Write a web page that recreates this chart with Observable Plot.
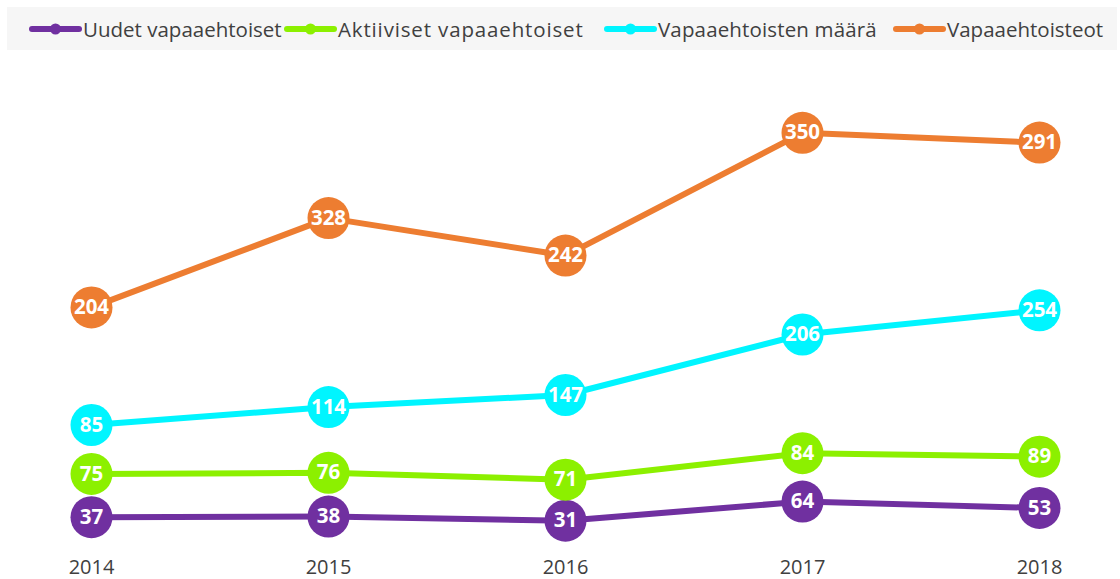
<!DOCTYPE html>
<html>
<head>
<meta charset="utf-8">
<script src="https://cdn.jsdelivr.net/npm/d3@7"></script>
<script src="https://cdn.jsdelivr.net/npm/@observablehq/plot@0.6"></script>
<style>
  html, body { margin: 0; padding: 0; background: #fff; }
  body { width: 1120px; height: 579px; overflow: hidden; font-family: "Open Sans", sans-serif; }
  #legend { position: absolute; left: 7px; top: 7px; width: 1110px; height: 43px; background: #f6f6f6; }
  .item { position: absolute; top: 0; height: 43px; display: flex; align-items: center; font-size: 20.5px; color: #404040; white-space: nowrap; }
  .item svg { margin-right: 1px; }
  #chart { position: absolute; left: 0; top: 55px; }
</style>
</head>
<body>
<div id="legend"></div>
<div id="chart"></div>
<script>
const years = ["2014", "2015", "2016", "2017", "2018"];
const seriesNames = ["Uudet vapaaehtoiset", "Aktiiviset vapaaehtoiset", "Vapaaehtoisten määrä", "Vapaaehtoisteot"];
const uudet = [37, 38, 31, 64, 53];
const aktiiviset = [75, 76, 71, 84, 89];
const maara = [85, 114, 147, 206, 254];
const teot = [204, 328, 242, 350, 291];
const colors = ["#7030a0", "#8cf000", "#00f5ff", "#ed7d31"];

const seriesValues = [uudet, aktiiviset, maara, teot];
const data = [];
seriesNames.forEach((s, i) => {
  years.forEach((y, j) => data.push({year: y, series: s, value: seriesValues[i][j]}));
});

// legend
const legendX = [22, 277, 597, 886];
const legendSpacing = [0, 0.85, 0.15, 0];
const legend = document.getElementById("legend");
seriesNames.forEach((s, i) => {
  const d = document.createElement("div");
  d.className = "item";
  d.style.left = legendX[i] + "px";
  d.innerHTML = `<svg width="53" height="14"><line x1="3" y1="7" x2="50" y2="7" stroke="${colors[i]}" stroke-width="6" stroke-linecap="round"/><circle cx="26.5" cy="7" r="5.5" fill="${colors[i]}"/></svg><span style="letter-spacing:${legendSpacing[i]}px">${s}</span>`;
  legend.appendChild(d);
});

const stackOpts = {x: "year", y: "value", z: "series"};
const chart = Plot.plot({
  width: 1120,
  height: 524,
  marginLeft: 90,
  marginRight: 81,
  marginTop: 22,
  marginBottom: 41,
  style: {fontFamily: "Open Sans, sans-serif", background: "transparent"},
  x: {type: "point", domain: years, padding: 0, label: null, axis: null},
  y: {domain: [0, 800], axis: null},
  color: {domain: seriesNames, range: colors},
  marks: [
    Plot.axisX({tickSize: 0, tickPadding: 21, fontSize: 20, fill: "#404040", label: null}),
    Plot.line(data, Plot.stackY2({...stackOpts, stroke: "series", strokeWidth: 6})),
    Plot.dot(data, Plot.stackY2({...stackOpts, fill: "series", r: 21})),
    Plot.text(data, Plot.stackY2({...stackOpts, text: d => d.value, fill: "white", fontWeight: "bold", fontSize: 20.5}))
  ]
});
document.getElementById("chart").appendChild(chart);
</script>
</body>
</html>
